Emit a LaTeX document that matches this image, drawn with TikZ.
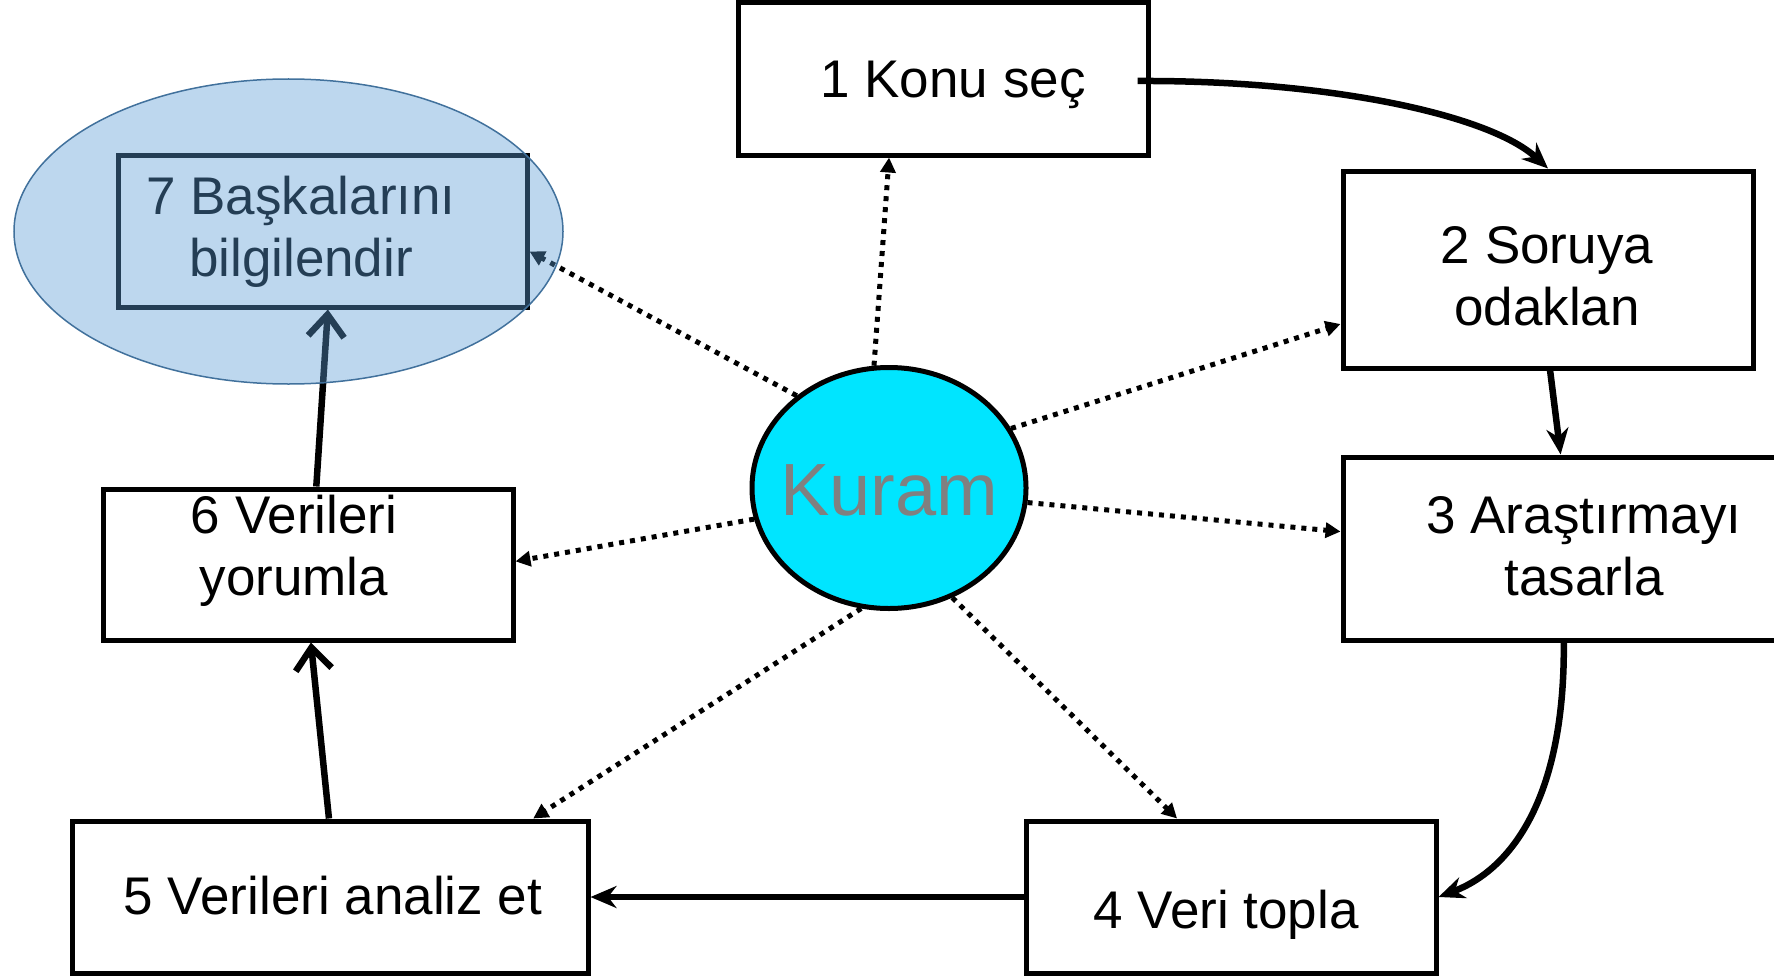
\documentclass[tikz,border=0pt]{standalone}
\usepackage{fontspec}
\setmainfont{Liberation Sans}
\usetikzlibrary{arrows.meta,calc,shapes.geometric}
\definecolor{kuramcyan}{HTML}{00E5FF}
\definecolor{ovalfill}{HTML}{5B9BD5}
\definecolor{ovaldraw}{HTML}{41719C}
\definecolor{kuramtext}{HTML}{808080}
\begin{document}
\begin{tikzpicture}[x=1pt,y=-1pt,
  stepbox/.style={draw=black,line width=5pt,inner sep=0pt,fill=none},
  lbl/.style={inner sep=0pt,font=\fontsize{53}{62}\selectfont,align=center},
  flow/.style={line width=6.5pt,-{Stealth[length=26pt,width=22pt]}},
  flowopen/.style={line width=6.5pt,-{Straight Barb[length=22pt,width=36pt,line width=6.5pt]}},
  dots/.style={line width=5pt,dash pattern=on 5pt off 6pt,-{Triangle[length=15pt,width=15pt]}},
]
\useasboundingbox (0,0) rectangle (1774,979);
\clip (0,0) rectangle (1774,979);

% boxes
\node[stepbox,minimum width=410pt,minimum height=152pt] (b1) at (943,79) {};
\node[stepbox,minimum width=410pt,minimum height=197pt] (b2) at (1548,269.5) {};
\node[stepbox,minimum width=482pt,minimum height=183pt] (b3) at (1584,548.5) {};
\node[stepbox,minimum width=410pt,minimum height=152pt] (b4) at (1231,897) {};
\node[stepbox,minimum width=516pt,minimum height=152pt] (b5) at (330,897) {};
\node[stepbox,minimum width=410pt,minimum height=151pt] (b6) at (308,564.5) {};
\node[stepbox,minimum width=409pt,minimum height=152pt] (b7) at (322.5,231) {};

% labels
\node[lbl,anchor=base] (t1) at (953,98) {1 Konu seç};
\node[lbl] (t2) at (1547,276) {2 Soruya\\odaklan};
\node[lbl] (t3) at (1584,546) {3 Araştırmayı\\tasarla};
\node[lbl,anchor=base] (t4) at (1226,928) {4 Veri topla};
\node[lbl,anchor=base] (t5) at (333,914) {5 Verileri analiz et};
\node[lbl] (t6) at (294,551) {6 Verileri\\yorumla};
\node[lbl] (t7) at (301,232) {7 Başkalarını\\bilgilendir};

% centre
\node[ellipse,draw=black,line width=5pt,fill=kuramcyan,minimum width=274pt,minimum height=241pt,inner sep=0pt] (kuram) at (889,488) {};
\node[inner sep=0pt,anchor=base,text=kuramtext,font=\fontsize{74}{80}\selectfont] (kt) at (889,515) {Kuram};

% solid cycle arrows
\draw[flow] ($(b1.east)+(-13,2)$) .. controls (1330,80) and (1490,115) .. (b2.north);
\draw[flow] ($(b2.south west)!0.505!(b2.south east)$) -- ($(b3.north west)!0.452!(b3.north east)$);
\draw[flow] ($(b3.south west)!0.4585!(b3.south east)$) .. controls (1565,800) and (1510,870) .. (b4.east);
\draw[flow] (b4.west) -- (b5.east);
\draw[flowopen] ($(b5.north west)!0.498!(b5.north east)$) -- ($(b6.south west)!0.507!(b6.south east)$);
\draw[flowopen] ($(b6.north west)!0.52!(b6.north east)$) -- ($(b7.south west)!0.513!(b7.south east)$);

% dotted arrows from Kuram
\draw[dots] (kuram.97) -- ($(b1.south west)!0.37!(b1.south east)$);
\draw[dots] (kuram.135) -- ($(b7.north east)!0.63!(b7.south east)$);
\draw[dots] (kuram.26) -- ($(b2.north west)!0.77!(b2.south west)$);
\draw[dots] (kuram.-6) -- ($(b3.north west)!0.41!(b3.south west)$);
\draw[dots] (kuram.193) -- ($(b6.north east)!0.48!(b6.south east)$);
\draw[dots] (kuram.257) -- ($(b5.north west)!0.89!(b5.north east)$);
\draw[dots] (kuram.300) -- ($(b4.north west)!0.37!(b4.north east)$);

% translucent oval over step 7
\node[ellipse,draw=ovaldraw,line width=1.5pt,fill=ovalfill,fill opacity=0.4,draw opacity=1,
      minimum width=549pt,minimum height=305pt,inner sep=0pt] (oval) at (288.5,231.5) {};
\end{tikzpicture}
\end{document}
